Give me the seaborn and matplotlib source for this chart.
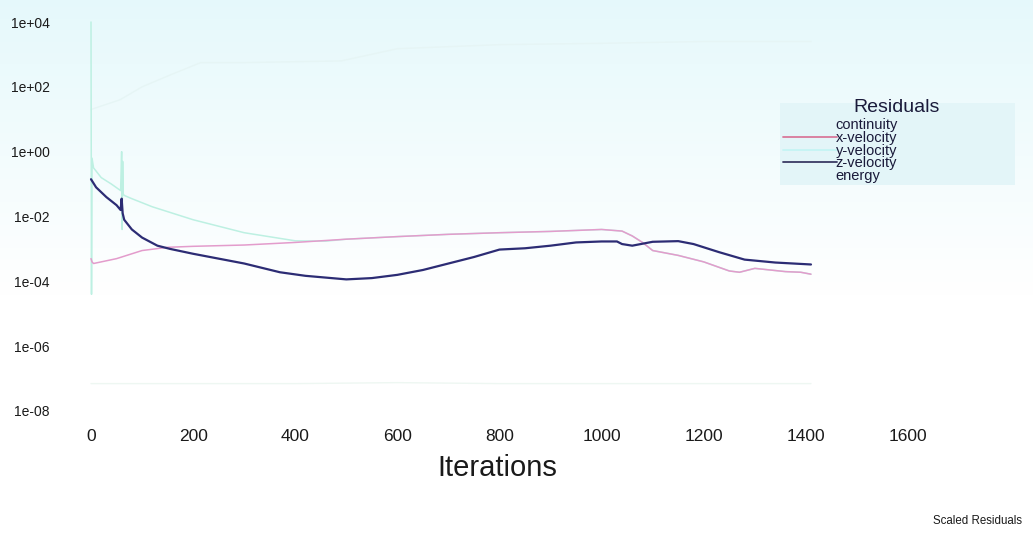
import numpy as np
import pandas as pd
import matplotlib
matplotlib.use("Agg")
import matplotlib.pyplot as plt
from matplotlib.lines import Line2D
from matplotlib.patches import Rectangle
import seaborn as sns

# ---------------- data ----------------
series_names = ["continuity", "x-velocity", "y-velocity", "z-velocity", "energy"]
legend_title = "Residuals"

continuity_iter = [0, 57, 100, 160, 215, 300, 490, 600, 800, 1000, 1200, 1410]
continuity_val = [20, 40, 100, 250, 560, 560, 630, 1500, 2000, 2200, 2500, 2500]

xvel_iter = [0, 2, 5, 20, 50, 100, 150, 200, 300, 400, 500, 600, 700, 800, 900,
             950, 1000, 1040, 1060, 1080, 1100, 1150, 1200, 1250, 1270, 1300,
             1330, 1360, 1390, 1410]
xvel_log = [-3.30, -3.40, -3.45, -3.40, -3.30, -3.05, -2.95, -2.92, -2.88, -2.80,
            -2.70, -2.62, -2.55, -2.50, -2.46, -2.43, -2.40, -2.45, -2.60, -2.80,
            -3.05, -3.20, -3.40, -3.68, -3.72, -3.60, -3.65, -3.70, -3.72, -3.78]

yvel_iter = [0, 1, 2, 5, 20, 40, 58, 60, 61, 62, 63, 65, 80, 120, 200, 300, 400,
             460, 500, 600, 700, 800, 900, 1000, 1040, 1060, 1080, 1100, 1150,
             1200, 1250, 1270, 1300, 1330, 1360, 1390, 1410]
yvel_log = [4.0, -4.4, -0.2, -0.5, -0.8, -1.0, -1.2, 0.0, -2.4, -0.3, -1.3, -1.35,
            -1.45, -1.70, -2.10, -2.50, -2.75, -2.76, -2.70, -2.62, -2.55, -2.50,
            -2.46, -2.40, -2.45, -2.60, -2.80, -3.05, -3.20, -3.40, -3.68, -3.72,
            -3.60, -3.65, -3.70, -3.72, -3.78]

zvel_iter = [0, 10, 30, 50, 58, 60, 62, 65, 80, 100, 130, 155, 200, 250, 300, 370,
             420, 500, 550, 600, 650, 700, 750, 800, 850, 900, 950, 1000, 1030,
             1040, 1060, 1100, 1150, 1180, 1230, 1280, 1340, 1410]
zvel_log = [-0.85, -1.10, -1.40, -1.65, -1.80, -1.45, -1.90, -2.10, -2.40, -2.65,
            -2.90, -3.00, -3.15, -3.30, -3.45, -3.72, -3.83, -3.94, -3.90, -3.80,
            -3.65, -3.45, -3.25, -3.02, -2.98, -2.90, -2.80, -2.77, -2.77, -2.85,
            -2.90, -2.78, -2.76, -2.85, -3.10, -3.33, -3.42, -3.48]

energy_iter = [0, 200, 400, 600, 800, 1000, 1200, 1410]
energy_val = [7e-8, 7e-8, 7e-8, 7.5e-8, 7e-8, 7e-8, 7e-8, 7e-8]

x_ticks = [0, 200, 400, 600, 800, 1000, 1200, 1400, 1600]
y_ticks = [1e4, 1e2, 1e0, 1e-2, 1e-4, 1e-6, 1e-8]
y_tick_labels = ["1e+04", "1e+02", "1e+00", "1e-02", "1e-04", "1e-06", "1e-08"]

# ---------------- long-form table ----------------
frames = [
    pd.DataFrame({"iter": continuity_iter, "res": continuity_val, "series": "continuity"}),
    pd.DataFrame({"iter": yvel_iter, "res": 10.0 ** np.array(yvel_log), "series": "y-velocity"}),
    pd.DataFrame({"iter": xvel_iter, "res": 10.0 ** np.array(xvel_log), "series": "x-velocity"}),
    pd.DataFrame({"iter": zvel_iter, "res": 10.0 ** np.array(zvel_log), "series": "z-velocity"}),
    pd.DataFrame({"iter": energy_iter, "res": energy_val, "series": "energy"}),
]
df = pd.concat(frames, ignore_index=True)

palette = {
    "continuity": "#e6f5f5",
    "x-velocity": "#e39ccc",
    "y-velocity": "#bdf0e2",
    "z-velocity": "#2c2c74",
    "energy": "#eef7f2",
}
legend_colors = {
    "continuity": "#ffffff00",
    "x-velocity": "#d9789a",
    "y-velocity": "#c4f4f4",
    "z-velocity": "#3a3a64",
    "energy": "#ffffff00",
}
widths = {"continuity": 1.0, "x-velocity": 1.1, "y-velocity": 1.1,
          "z-velocity": 1.6, "energy": 1.0}

# ---------------- figure ----------------
sns.set_theme(style="white")
plt.rcParams["font.family"] = ["Liberation Sans", "DejaVu Sans"]

W, H = 1033, 534
fig = plt.figure(figsize=(W / 100, H / 100), dpi=100)

# background gradient (light cyan fading to white) and legend box
bg = fig.add_axes([0, 0, 1, 1], zorder=-10)
bg.set_axis_off()
rows = np.linspace(0, 1, 200)
fade = np.clip(rows / 0.55, 0, 1)
top = np.array([0.90, 0.975, 0.985])
img = np.zeros((200, 2, 3))
for i, f in enumerate(fade):
    img[i, :, :] = top * (1 - f) + np.array([1, 1, 1]) * f
bg.imshow(img, aspect="auto", extent=[0, 1, 0, 1], origin="upper", zorder=0)
bg.set_xlim(0, 1)
bg.set_ylim(0, 1)
bg.add_patch(Rectangle((780 / W, 1 - 185 / H), 235 / W, 82 / H,
                       facecolor="#e3f5f8", edgecolor="none", zorder=1))

ax_left, ax_right, ax_top, ax_bot = 60, 1000, 5, 418
ax = fig.add_axes([ax_left / W, 1 - ax_bot / H, (ax_right - ax_left) / W, (ax_bot - ax_top) / H])
ax.patch.set_alpha(0)

for name in ["continuity", "energy", "y-velocity", "x-velocity", "z-velocity"]:
    sub = df[df["series"] == name]
    sns.lineplot(data=sub, x="iter", y="res", ax=ax, color=palette[name],
                 linewidth=widths[name], estimator=None, sort=False, legend=False)

ax.set_yscale("log")
px_per_iter = (908 - 91) / 1600
ax.set_xlim((ax_left - 91) / px_per_iter, (ax_right - 91) / px_per_iter)
px_per_dec = (411 - 22) / 12
ax.set_ylim(10 ** (-8 - (ax_bot - 411) / px_per_dec), 10 ** (4 + (22 - ax_top) / px_per_dec))

ax.set_xticks(x_ticks)
ax.set_xticklabels([str(t) for t in x_ticks])
ax.set_yticks(y_ticks)
ax.set_yticklabels(y_tick_labels)
ax.minorticks_off()
ax.tick_params(axis="y", length=0, pad=7.5, labelsize=10, labelcolor="#1a1a1a")
ax.tick_params(axis="x", length=0, pad=8, labelsize=12.5, labelcolor="#1a1a1a")
for s in ax.spines.values():
    s.set_visible(False)
ax.grid(False)
ax.set_ylabel("")
ax.set_xlabel("Iterations", fontsize=21, color="#1a1a1a")
ax.xaxis.set_label_coords((497 - ax_left) / (ax_right - ax_left), -(468 - ax_bot) / (ax_bot - ax_top))
ax.xaxis.label.set_va("center")

# legend
handles = [Line2D([0], [0], color=legend_colors[n], linewidth=1.3) for n in series_names]
leg = ax.legend(handles, series_names, loc="upper left",
                bbox_to_anchor=(783 / W, 1 - 118 / H), bbox_transform=fig.transFigure,
                frameon=False, fontsize=10.5, labelspacing=-0.08,
                handlelength=3.7, handletextpad=-0.1, borderpad=0.0, borderaxespad=0.0)
for t in leg.get_texts():
    t.set_color("#1a1a3a")
fig.text(897 / W, 1 - 108 / H, legend_title, ha="center", va="center",
         fontsize=14, color="#1a1a3a")

fig.text(1022 / W, 1 - 521 / H, "Scaled Residuals", ha="right", va="center",
         fontsize=8.3, color="#1a1a1a")

fig.savefig("out.png", dpi=100)
